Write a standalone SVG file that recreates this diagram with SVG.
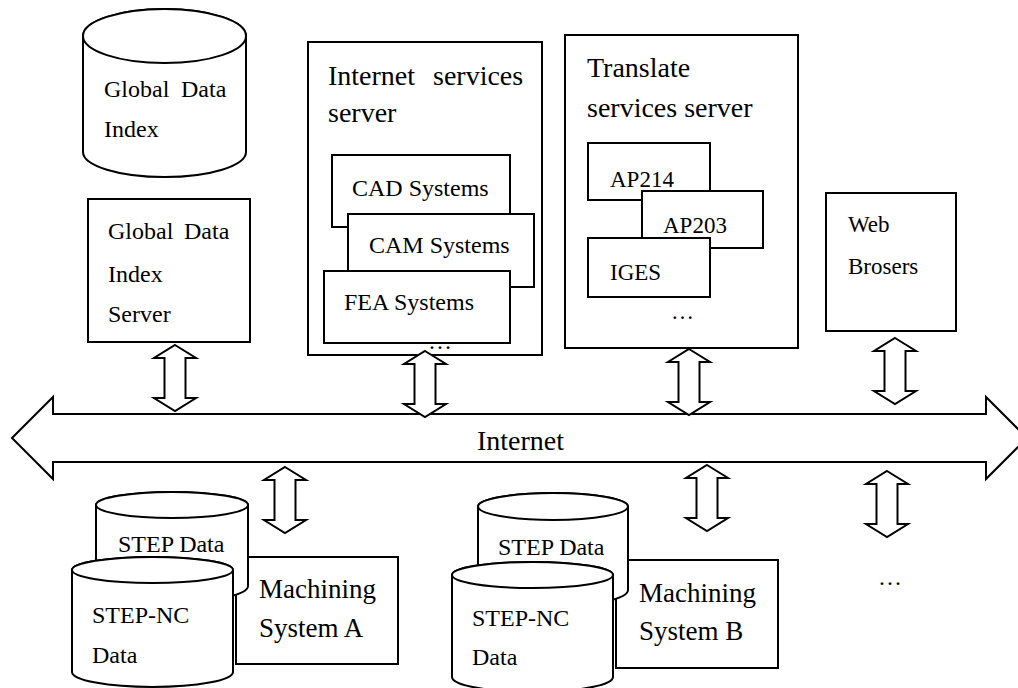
<svg xmlns="http://www.w3.org/2000/svg" width="1018" height="688" viewBox="0 0 1018 688">
  <style>
    .s { fill: #fff; stroke: #000; stroke-width: 2; }
    .t { font-family: "Liberation Serif", "Times New Roman", serif; font-size: 24px; fill: #000; }
    .t23 { font-size: 23px; }
    .big { font-size: 28px; }
    .mid { font-size: 27px; }
  </style>
  <defs>
    <!-- vertical two-headed block arrow, centred on x=0, spanning y 0..66 -->
    <path id="dbl" class="s" d="M0,0 L21,13 L10.5,13 L10.5,53 L21,53 L0,66 L-21,53 L-10.5,53 L-10.5,13 L-21,13 Z"/>
  </defs>

  <rect width="1018" height="688" fill="#fff"/>

  <!-- Global data index (database) -->
  <g id="global-data-index">
    <path class="s" d="M83,36 L83,152 A81.5,25 0 0 0 246,152 L246,36 A81.5,27 0 0 0 83,36 Z"/>
    <ellipse class="s" cx="164.5" cy="36" rx="81.5" ry="27"/>
    <text class="t"><tspan x="104" y="97">Global</tspan><tspan x="181" y="97">Data</tspan><tspan x="104" y="137">Index</tspan></text>
  </g>

  <!-- Global data index server -->
  <g id="global-data-index-server">
    <rect class="s" x="88" y="199" width="162" height="143"/>
    <text class="t"><tspan x="108" y="239">Global</tspan><tspan x="184" y="239">Data</tspan><tspan x="108" y="282">Index</tspan><tspan x="108" y="322">Server</tspan></text>
  </g>

  <!-- Internet services server -->
  <g id="internet-services-server">
    <rect class="s" x="308" y="42" width="234" height="313"/>
    <text class="t big"><tspan x="328" y="85">Internet</tspan><tspan x="433" y="85">services</tspan><tspan x="328" y="122">server</tspan></text>
    <rect class="s" x="332" y="155" width="178" height="72"/>
    <text class="t" x="352" y="196">CAD Systems</text>
    <rect class="s" x="348" y="214" width="186" height="73"/>
    <text class="t" x="369" y="253">CAM Systems</text>
    <rect class="s" x="324" y="271" width="186" height="72"/>
    <text class="t" x="344" y="310">FEA Systems</text>
    <text class="t" x="428" y="349">…</text>
  </g>

  <!-- Translate services server -->
  <g id="translate-services-server">
    <rect class="s" x="565" y="35" width="233" height="313"/>
    <text class="t big"><tspan x="587" y="77">Translate</tspan><tspan x="587" y="117">services server</tspan></text>
    <rect class="s" x="588" y="143" width="122" height="57"/>
    <text class="t t23" x="610" y="187">AP214</text>
    <rect class="s" x="642" y="191" width="121" height="57"/>
    <text class="t t23" x="663" y="233">AP203</text>
    <rect class="s" x="588" y="238" width="122" height="59"/>
    <text class="t t23" x="610" y="280">IGES</text>
    <text class="t t23" x="671" y="319">…</text>
  </g>

  <!-- Web browsers -->
  <g id="web-browsers">
    <rect class="s" x="826" y="193" width="130" height="138"/>
    <text class="t t23"><tspan x="848" y="232">Web</tspan><tspan x="848" y="274">Brosers</tspan></text>
  </g>

  <!-- Machining system A with its data stores -->
  <g id="machining-system-a">
    <rect class="s" x="236" y="557" width="162" height="107"/>
    <text class="t mid"><tspan x="259" y="598">Machining</tspan><tspan x="259" y="637">System A</tspan></text>
    <path class="s" d="M96,505 L96,586 A76,16 0 0 0 248,586 L248,505 A76,13 0 0 0 96,505 Z"/>
    <ellipse class="s" cx="172" cy="505" rx="76" ry="13"/>
    <text class="t" x="118" y="552">STEP Data</text>
    <path class="s" d="M72,570 L72,672 A80.5,15 0 0 0 233,672 L233,570 A80.5,13 0 0 0 72,570 Z"/>
    <ellipse class="s" cx="152.5" cy="570" rx="80.5" ry="13"/>
    <text class="t"><tspan x="92" y="623">STEP-NC</tspan><tspan x="92" y="663">Data</tspan></text>
  </g>

  <!-- Machining system B with its data stores -->
  <g id="machining-system-b">
    <rect class="s" x="616" y="560" width="162" height="108"/>
    <text class="t mid"><tspan x="639" y="602">Machining</tspan><tspan x="639" y="640">System B</tspan></text>
    <path class="s" d="M478,506.5 L478,590 A75,16 0 0 0 628,590 L628,506.5 A75,13.5 0 0 0 478,506.5 Z"/>
    <ellipse class="s" cx="553" cy="506.5" rx="75" ry="13.5"/>
    <text class="t" x="498" y="555">STEP Data</text>
    <path class="s" d="M452,575 L452,677 A80.5,15 0 0 0 613,677 L613,575 A80.5,13 0 0 0 452,575 Z"/>
    <ellipse class="s" cx="532.5" cy="575" rx="80.5" ry="13"/>
    <text class="t"><tspan x="472" y="626">STEP-NC</tspan><tspan x="472" y="665">Data</tspan></text>
  </g>

  <!-- further systems -->
  <g id="more-systems">
    <text class="t" x="878" y="585">…</text>
  </g>

  <!-- Internet backbone and links -->
  <g id="connectors">
    <path class="s" d="M12,438 L53,397 L53,414 L986,414 L986,397 L1027,438 L986,479 L986,462 L53,462 L53,479 Z"/>
    <use href="#dbl" x="175" y="345"/>
    <use href="#dbl" x="425" y="351"/>
    <use href="#dbl" x="689" y="349"/>
    <use href="#dbl" x="895" y="338"/>
    <use href="#dbl" x="285" y="467"/>
    <use href="#dbl" x="707" y="465"/>
    <use href="#dbl" x="887" y="471"/>
  </g>
  <text class="t big" x="477" y="450">Internet</text>
</svg>
